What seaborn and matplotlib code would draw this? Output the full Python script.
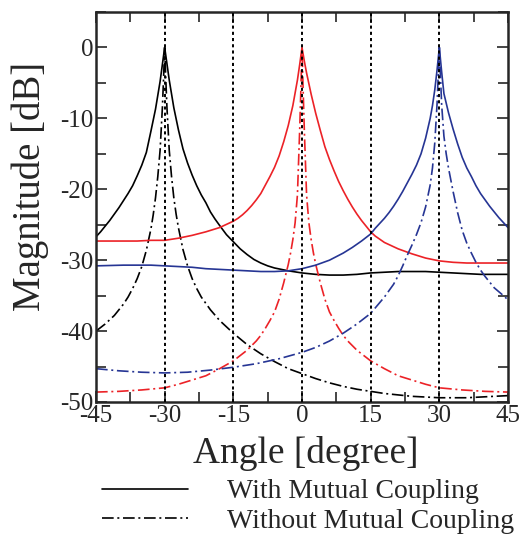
import matplotlib
matplotlib.use("Agg")
import matplotlib.pyplot as plt
from matplotlib.lines import Line2D
from matplotlib.ticker import MultipleLocator
import numpy as np
import pandas as pd
import seaborn as sns

# ---- data (angle in degree, magnitude in dB) ----
# with mutual coupling, source at -30
black_with_x = [-45, -44, -43, -42, -41, -40, -39, -38, -37, -36, -35, -34, -33, -32, -31, -30.5, -30,
                -29.5, -29, -28, -27, -26, -25, -24, -23, -22, -21, -20, -19, -18, -16.5, -15, -13.5, -12, -10.5,
                -9, -7.5, -6, -3, 0, 3, 6, 9, 12, 15, 18, 21, 24, 27, 30, 33, 36, 39, 42, 45]
black_with_y = [-26.7, -26.0, -25.2, -24.4, -23.5, -22.6, -21.6, -20.6, -19.5, -18.1, -16.6, -14.8, -11.8, -8.7,
                -4.8, -2.4, 0.0, -2.3, -4.6, -8.5, -11.6, -14.3, -16.3, -18.0, -19.5, -20.8, -21.9, -23.2, -24.2,
                -25.1, -26.4, -27.4, -28.4, -29.2, -29.9, -30.4, -30.8, -31.1, -31.5, -31.8, -32.0, -32.1, -32.1,
                -32.0, -31.8, -31.7, -31.6, -31.6, -31.6, -31.7, -31.8, -31.9, -32.0, -32.0, -32.0]

# with mutual coupling, source at 0
red_with_x = [-45, -39, -36, -33, -30, -27, -24, -21, -18, -15, -14, -13, -12, -11, -10, -9, -8, -7, -6, -5, -4,
              -3, -2, -1, -0.5, 0, 0.5, 1, 2, 3, 4, 5, 6, 7, 8, 9, 10, 11, 12, 13, 14, 15, 16, 18, 21, 24, 27,
              30, 33, 36, 39, 42, 45]
red_with_y = [-27.3, -27.3, -27.3, -27.2, -27.2, -26.9, -26.5, -26.0, -25.4, -24.5, -24.1, -23.6, -23.0, -22.3,
              -21.5, -20.6, -19.4, -18.2, -16.9, -15.3, -13.3, -11.0, -8.2, -4.6, -2.4, 0.0, -1.9, -3.6, -6.6,
              -9.3, -11.7, -14.0, -15.8, -17.4, -18.9, -20.2, -21.4, -22.5, -23.5, -24.4, -25.2, -26.0, -26.6,
              -27.5, -28.4, -29.1, -29.7, -30.1, -30.3, -30.4, -30.4, -30.4, -30.4]

# with mutual coupling, source at 30
blue_with_x = [-45, -39, -33, -30, -27, -24, -21, -18, -15, -12, -9, -6, -3, 0, 3, 6, 9, 11, 13, 15, 16, 17, 18,
               19, 20, 21, 22, 23, 24, 25, 26, 27, 28, 28.5, 29, 29.5, 30, 30.5, 31, 32, 33, 34, 35, 36, 37, 38,
               39, 40, 41, 42, 43, 44, 45]
blue_with_y = [-30.8, -30.7, -30.7, -30.8, -30.9, -31.0, -31.2, -31.3, -31.4, -31.5, -31.6, -31.6, -31.5, -31.2,
               -30.7, -30.0, -29.0, -28.2, -27.3, -26.3, -25.5, -24.8, -24.1, -23.3, -22.4, -21.4, -20.3, -19.1,
               -17.9, -16.6, -15.0, -12.8, -10.0, -8.2, -6.0, -3.2, 0.0, -3.4, -6.5, -9.2, -11.5, -13.6, -15.5,
               -17.0, -18.2, -19.5, -20.6, -21.5, -22.4, -23.2, -24.0, -24.7, -25.4]

# without mutual coupling, source at -30
black_wo_x = [-45, -43, -41, -39, -38, -37, -36, -35, -34, -33, -32.5, -32, -31.5, -31, -30.5, -30.25, -30,
              -29.75, -29.5, -29, -28.5, -28, -27.5, -27, -26, -25, -24, -23, -22, -20, -18, -15, -12, -9, -6, -3,
              0, 3, 6, 9, 12, 15, 18, 21, 24, 27, 30, 33, 36, 39, 42, 45]
black_wo_y = [-40.0, -39.0, -37.8, -36.2, -35.2, -34.0, -32.6, -30.9, -28.6, -25.6, -23.6, -21.2, -18.2, -14.5,
              -8.5, -4.5, 0.0, -4.5, -8.5, -14.5, -18.2, -21.2, -23.5, -25.4, -28.5, -30.8, -32.6, -34.0, -35.2,
              -37.0, -38.5, -40.3, -41.9, -43.2, -44.3, -45.3, -46.0, -46.7, -47.3, -47.8, -48.2, -48.5, -48.8,
              -49.0, -49.2, -49.3, -49.4, -49.4, -49.4, -49.3, -49.2, -49.1]

# without mutual coupling, source at 0
red_wo_x = [-45, -40, -35, -30, -27, -24, -21, -18, -15, -12, -10, -9, -8, -7, -6, -5, -4, -3, -2.5, -2, -1.5, -1,
            -0.5, -0.25, 0, 0.25, 0.5, 1, 1.5, 2, 2.5, 3, 4, 5, 6, 7, 8, 9, 10, 12, 15, 18, 21, 24, 27, 30, 35,
            40, 45]
red_wo_y = [-48.6, -48.5, -48.3, -48.0, -47.5, -46.9, -46.3, -45.3, -44.2, -42.7, -41.4, -40.6, -39.6, -38.5,
            -37.3, -35.5, -33.2, -30.6, -29.0, -27.1, -24.7, -20.8, -11.5, -6.0, 0.0, -6.0, -11.5, -20.8, -24.7,
            -27.1, -29.0, -30.6, -33.2, -35.5, -37.3, -38.5, -39.6, -40.6, -41.4, -42.7, -44.2, -45.3, -46.3,
            -46.9, -47.5, -48.0, -48.3, -48.5, -48.6]

# without mutual coupling, source at 30
blue_wo_x = [-45, -40, -35, -30, -25, -20, -15, -10, -5, 0, 3, 6, 9, 12, 15, 18, 20, 21, 22, 23, 24, 25, 26, 27,
             28, 28.5, 29, 29.5, 30, 30.5, 31, 31.5, 32, 33, 34, 35, 36, 37, 38, 39, 40, 42, 44, 45]
blue_wo_y = [-45.3, -45.6, -45.8, -45.9, -45.8, -45.5, -45.1, -44.6, -43.9, -43.0, -42.3, -41.4, -40.3, -39.0,
             -37.5, -35.2, -33.4, -32.2, -30.8, -29.3, -27.9, -26.4, -24.7, -22.5, -19.4, -17.0, -13.5, -8.0, 0.0,
             -8.0, -12.5, -15.0, -17.0, -20.3, -23.3, -25.8, -27.6, -29.0, -30.3, -31.4, -32.3, -33.9, -35.0,
             -35.6]

guide_angles = [-30, -15, 0, 15, 30]
legend_labels = ["With Mutual Coupling", "Without Mutual Coupling"]

frames = []
for xs, ys, src, cpl in [(black_with_x, black_with_y, "-30", "with"),
                         (red_with_x, red_with_y, "0", "with"),
                         (blue_with_x, blue_with_y, "30", "with"),
                         (black_wo_x, black_wo_y, "-30", "without"),
                         (red_wo_x, red_wo_y, "0", "without"),
                         (blue_wo_x, blue_wo_y, "30", "without")]:
    frames.append(pd.DataFrame({"angle": xs, "mag": ys, "source": src, "coupling": cpl}))
df = pd.concat(frames, ignore_index=True)

sns.set_style("ticks")
plt.rcParams["font.family"] = ["Liberation Serif", "DejaVu Serif"]

colors = {"-30": "#000000", "0": "#ec2227", "30": "#263594"}
dashdot = (7, 2.2, 1.2, 2.2)

fig = plt.figure(figsize=(5.2, 5.36), dpi=100)
ax = fig.add_axes([96 / 520, 1 - 402 / 536, 412 / 520, 390 / 536])

sns.lineplot(data=df, x="angle", y="mag", hue="source", style="coupling", palette=colors,
             dashes={"with": "", "without": dashdot}, estimator=None, sort=False,
             legend=False, linewidth=1.2, ax=ax)

for a in guide_angles:
    ax.axvline(a, color="black", lw=1.4, dashes=(1.6, 1.6), zorder=5)

ax.set_xlim(-45, 45)
ax.set_ylim(-50, 5)
ax.xaxis.set_minor_locator(MultipleLocator(7.5))
ax.yaxis.set_minor_locator(MultipleLocator(5))
ax.tick_params(which="both", direction="in", top=True, right=True, width=1.2, labelsize=18, pad=2)
ax.tick_params(which="major", length=8)
ax.tick_params(which="minor", length=7)
ax.set_xticks([-45, -30, -15, 0, 15, 30, 45])
ax.set_xticklabels(["-45", "-30", "-15", "0", "15", "30", "45"])
ax.set_yticks([-50, -40, -30, -20, -10, 0])
ax.set_yticklabels(["-50", "-40", "-30", "-20", "-10", "0"])
for s in ax.spines.values():
    s.set_linewidth(1.8)

ax.set_xlabel("Angle [degree]", fontsize=27)
ax.set_ylabel("Magnitude [dB]", fontsize=28)
ax.xaxis.set_label_coords(0.51, -0.088)
ax.yaxis.set_label_coords(-0.113, 0.553)

handles = [Line2D([], [], color="black", lw=1.2),
           Line2D([], [], color="black", lw=1.2, dashes=dashdot)]
fig.legend(handles, legend_labels, loc="upper left", bbox_to_anchor=(102 / 520, 1 - 479 / 536),
           frameon=False, fontsize=20, handlelength=3.1, handletextpad=1.4, labelspacing=0.15,
           borderpad=0, borderaxespad=0)

fig.savefig("out.png", dpi=100)
